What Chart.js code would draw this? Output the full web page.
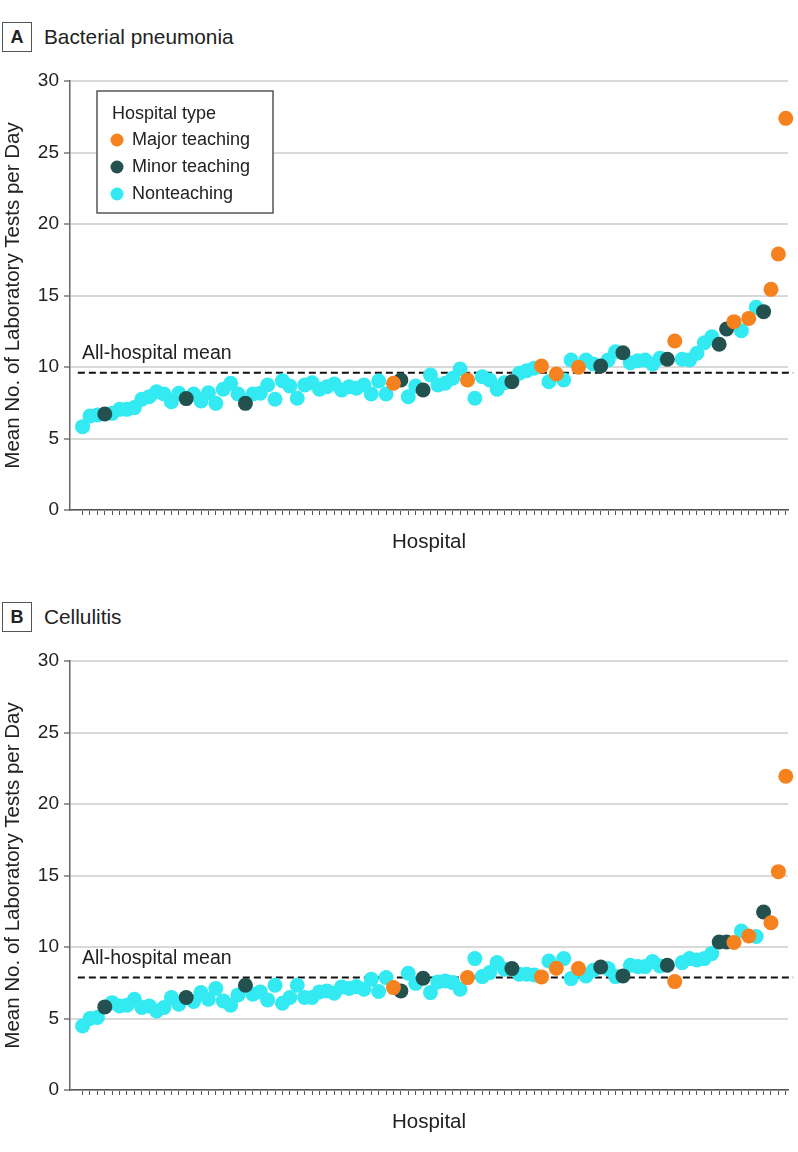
<!DOCTYPE html>
<html>
<head>
<meta charset="utf-8">
<script src="https://cdn.jsdelivr.net/npm/chart.js@4/dist/chart.umd.min.js"></script>
<style>
  body { margin: 0; background: #fff; width: 798px; height: 1152px; position: relative; overflow: hidden;
         font-family: "Liberation Sans", Arial, sans-serif; color: #222; }
  .panel { position: absolute; left: 0; width: 798px; }
  .tag { position: absolute; left: 2px; width: 28px; height: 28px; border: 1.5px solid #555;
         font-weight: bold; font-size: 18px; line-height: 28px; text-align: center; }
  .ttl { position: absolute; left: 44px; font-size: 20.8px; line-height: 24px; }
  canvas { position: absolute; left: 0; top: 0; }
</style>
</head>
<body>
<div class="panel" style="top:0;height:575px">
  <div class="tag" style="top:22px">A</div>
  <div class="ttl" style="top:25px">Bacterial pneumonia</div>
  <canvas id="chartA" width="798" height="562"></canvas>
</div>
<div class="panel" style="top:580px;height:572px">
  <div class="tag" style="top:22px">B</div>
  <div class="ttl" style="top:25px">Cellulitis</div>
  <canvas id="chartB" width="798" height="562"></canvas>
</div>
<script>
// hospital type of each hospital, left to right (M = major, m = minor, N = nonteaching)
const hospitalTypes = [
  'N','N','N','m','N','N','N','N','N','N','N','N','N','N','m','N','N','N','N','N','N','N','m','N',
  'N','N','N','N','N','N','N','N','N','N','N','N','N','N','N','N','N','N','M','m','N','N','m','N',
  'N','N','N','N','M','N','N','N','N','N','m','N','N','N','M','N','M','N','N','M','N','N','m','N',
  'N','m','N','N','N','N','N','m','M','N','N','N','N','N','m','m','M','N','M','N','m','M','M','M'
];

const pneumoniaValues = [
  5.83, 6.57, 6.64, 6.71, 6.76, 7.04, 7.04, 7.16, 7.74, 7.92, 8.27, 8.11, 7.57, 8.16, 7.79, 8.11,
  7.62, 8.2, 7.46, 8.44, 8.86, 8.11, 7.46, 8.11, 8.16, 8.74, 7.74, 9.04, 8.67, 7.81, 8.74, 8.9,
  8.44, 8.62, 8.81, 8.39, 8.62, 8.51, 8.74, 8.11, 9.02, 8.11, 8.86, 9.09, 7.92, 8.67, 8.39, 9.44,
  8.74, 8.86, 9.21, 9.86, 9.09, 7.81, 9.32, 9.09, 8.44, 8.9, 8.97, 9.56, 9.74, 9.91, 10.07, 8.97,
  9.51, 9.09, 10.49, 9.98, 10.49, 10.21, 10.07, 10.49, 11.07, 11.0, 10.3, 10.44, 10.49, 10.21, 10.61, 10.54,
  11.82, 10.54, 10.49, 10.96, 11.7, 12.12, 11.59, 12.66, 13.17, 12.54, 13.4, 14.17, 13.87, 15.43, 17.9, 27.39
];
const pneumoniaMean = 9.59;

const cellulitisValues = [
  4.48, 5.0, 5.07, 5.81, 6.11, 5.88, 5.93, 6.35, 5.77, 5.88, 5.53, 5.77, 6.47, 6.0, 6.47, 6.19,
  6.82, 6.35, 7.1, 6.23, 5.93, 6.65, 7.33, 6.7, 6.86, 6.3, 7.33, 6.07, 6.47, 7.33, 6.47, 6.47,
  6.86, 6.93, 6.77, 7.21, 7.1, 7.23, 7.05, 7.74, 6.89, 7.86, 7.16, 6.93, 8.16, 7.46, 7.81, 6.81,
  7.56, 7.63, 7.51, 7.05, 7.86, 9.19, 7.93, 8.21, 8.91, 8.44, 8.49, 8.09, 8.09, 8.04, 7.91, 9.02,
  8.51, 9.19, 7.79, 8.49, 7.98, 8.37, 8.6, 8.49, 7.93, 7.98, 8.72, 8.63, 8.63, 8.98, 8.67, 8.72,
  7.58, 8.91, 9.19, 9.09, 9.19, 9.54, 10.35, 10.35, 10.31, 11.12, 10.77, 10.73, 12.45, 11.7, 15.27, 21.94
];
const cellulitisMean = 7.86;

const typeCodes = ['M', 'm', 'N'];
const typeNames = ['Major teaching', 'Minor teaching', 'Nonteaching'];
const typeColors = ['#f5821f', '#23514f', '#33eaf2'];
const yTicks = [0, 5, 10, 15, 20, 25, 30];

const FONT = '"Liberation Sans", Arial, sans-serif';
Chart.defaults.font.family = FONT;
Chart.defaults.color = '#222';

// the "All-hospital mean" text above the dashed line
const meanLabel = {
  id: 'meanLabel',
  afterDatasetsDraw(chart, args, opts) {
    const ctx = chart.ctx;
    const y = chart.scales.y.getPixelForValue(opts.value);
    ctx.save();
    ctx.font = '19.5px ' + FONT;
    ctx.fillStyle = '#222';
    ctx.textBaseline = 'middle';
    ctx.fillText('All-hospital mean', chart.chartArea.left + 12, y - 19);
    ctx.restore();
  }
};

// boxed legend in the top left corner
const boxLegend = {
  id: 'boxLegend',
  afterDraw(chart, args, opts) {
    if (!opts.show) return;
    const ctx = chart.ctx;
    const x = 97, y = 91, w = 176, h = 122;
    ctx.save();
    ctx.fillStyle = '#fff';
    ctx.fillRect(x, y, w, h);
    ctx.strokeStyle = '#555';
    ctx.lineWidth = 1.5;
    ctx.strokeRect(x, y, w, h);
    ctx.font = '18px ' + FONT;
    ctx.fillStyle = '#222';
    ctx.textBaseline = 'middle';
    ctx.fillText('Hospital type', x + 15, y + 23);
    for (let i = 0; i < 3; i++) {
      const ds = chart.data.datasets[i];
      const cy = y + 49 + i * 27;
      ctx.beginPath();
      ctx.arc(x + 20, cy, 6.5, 0, Math.PI * 2);
      ctx.fillStyle = ds.backgroundColor;
      ctx.fill();
      ctx.fillStyle = '#222';
      ctx.fillText(ds.label, x + 35, cy);
    }
    ctx.restore();
  }
};

function makeChart(id, values, mean, showLegend) {
  const datasets = typeCodes.map((code, k) => ({
    type: 'scatter',
    label: typeNames[k],
    data: values.map((v, i) => ({ x: i, y: v })).filter((p, i) => hospitalTypes[i] === code),
    backgroundColor: typeColors[k],
    borderWidth: 0,
    pointRadius: 7.5,
    pointHoverRadius: 7.5,
    clip: false
  }));
  datasets.push({
    type: 'line',
    label: 'mean',
    data: [{ x: -0.64, y: mean }, { x: 96, y: mean }],
    borderColor: '#111',
    borderWidth: 2,
    borderDash: [7, 4],
    pointRadius: 0,
    clip: false,
    order: 10
  });

  return new Chart(document.getElementById(id), {
    type: 'scatter',
    data: { datasets: datasets },
    plugins: [meanLabel, boxLegend],
    options: {
      responsive: false,
      animation: false,
      events: [],
      layout: { padding: { top: 81, right: 10, left: 0, bottom: 0 } },
      plugins: {
        legend: { display: false },
        tooltip: { enabled: false },
        meanLabel: { value: mean },
        boxLegend: { show: showLegend }
      },
      scales: {
        x: {
          type: 'linear',
          min: -1.7,
          max: 95.3,
          afterBuildTicks: s => { s.ticks = values.map((v, i) => ({ value: i })); },
          afterFit: s => { s.height = 52; },
          ticks: { display: false },
          grid: { drawOnChartArea: false, drawTicks: true, tickLength: 5, tickColor: '#555', tickWidth: 1 },
          border: { color: '#555', width: 1.5 },
          title: { display: true, text: 'Hospital', font: { size: 20.5 }, color: '#222', padding: { top: 4, bottom: 7 } }
        },
        y: {
          min: 0,
          max: 30,
          afterBuildTicks: s => { s.ticks = yTicks.map(v => ({ value: v })); },
          afterFit: s => { s.width = 70; },
          ticks: { font: { size: 19 }, color: '#222', padding: 5 },
          grid: { color: '#d9d9d9', lineWidth: 2, tickLength: 6, tickColor: '#555', tickWidth: 1.2 },
          border: { color: '#666', width: 1.5 },
          title: { display: true, text: 'Mean No. of Laboratory Tests per Day', font: { size: 20.5 }, color: '#222', padding: { top: 1, bottom: 1 } }
        }
      }
    }
  });
}

makeChart('chartA', pneumoniaValues, pneumoniaMean, true);
makeChart('chartB', cellulitisValues, cellulitisMean, false);
</script>
</body>
</html>
